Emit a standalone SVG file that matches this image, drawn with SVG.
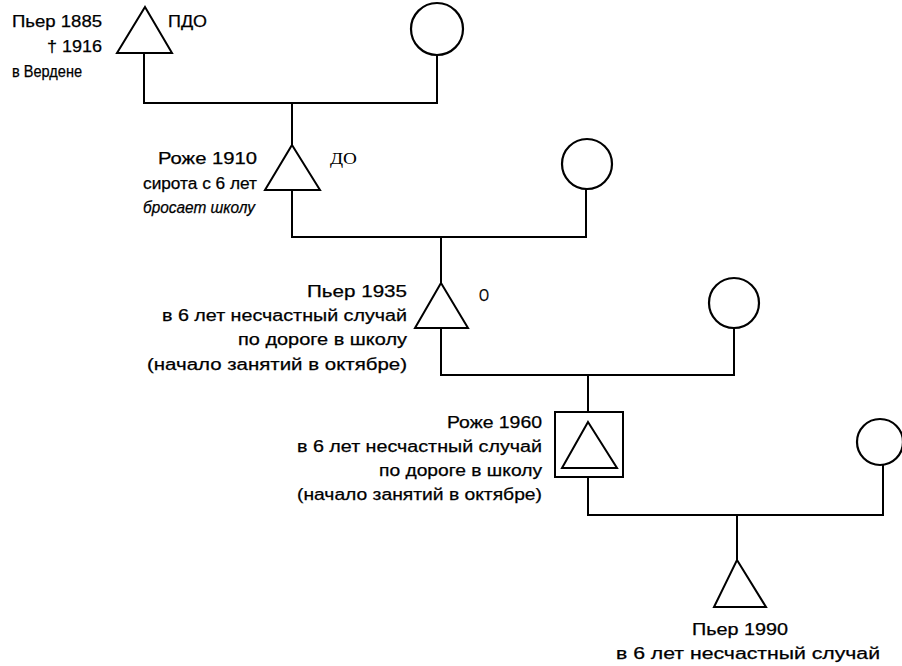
<svg xmlns="http://www.w3.org/2000/svg" width="902" height="666" viewBox="0 0 902 666">
<style>
.s{fill:none;stroke:#000;stroke-width:2;stroke-linejoin:miter}
.c{fill:none;stroke:#000;stroke-width:2.2}
.t{font-family:"Liberation Sans",Arial,sans-serif;font-size:16px;fill:#000;stroke:#000;stroke-width:0.25}
.tr{font-family:"Liberation Serif","Times New Roman",serif;font-size:17px;fill:#000}
</style>
<rect width="902" height="666" fill="#fff"/>
<g id="connectors" class="s">
<polyline points="144,53 144,103 437,103 437,55"/>
<line x1="292" y1="103" x2="292" y2="145"/>
<polyline points="292,190 292,237 586,237 586,189"/>
<line x1="441" y1="237" x2="441" y2="283"/>
<polyline points="441,328 441,375 734,375 734,328"/>
<line x1="588" y1="375" x2="588" y2="412"/>
<polyline points="588,477 588,515 883,515 883,465"/>
<line x1="737" y1="515" x2="737" y2="560"/>
</g>
<g id="pierre1885">
<polygon class="s" points="145,7 172,53 117,53"/>
<text class="t" x="12" y="27" textLength="90" lengthAdjust="spacingAndGlyphs">Пьер 1885</text>
<text class="t" x="47" y="52" textLength="55" lengthAdjust="spacingAndGlyphs">† 1916</text>
<text class="t" x="12" y="77" textLength="70" lengthAdjust="spacingAndGlyphs">в Вердене</text>
<text class="t" x="168" y="27" textLength="39" lengthAdjust="spacingAndGlyphs">ПДО</text>
</g>
<g id="wife1"><circle class="c" cx="437" cy="29" r="26"/></g>
<g id="roger1910">
<polygon class="s" points="292,145 320,190 265,190"/>
<text class="t" x="158" y="164" textLength="99" lengthAdjust="spacingAndGlyphs">Роже 1910</text>
<text class="t" x="143" y="189" textLength="114" lengthAdjust="spacingAndGlyphs">сирота с 6 лет</text>
<text class="t" x="143" y="213" textLength="112" lengthAdjust="spacingAndGlyphs" font-style="italic">бросает школу</text>
<text class="tr" x="330" y="164" textLength="27" lengthAdjust="spacingAndGlyphs">ДО</text>
</g>
<g id="wife2"><circle class="c" cx="587" cy="164" r="25"/></g>
<g id="pierre1935">
<polygon class="s" points="441,283 468,328 415,328"/>
<text class="t" x="307" y="297" textLength="100" lengthAdjust="spacingAndGlyphs">Пьер 1935</text>
<text class="t" x="162" y="321" textLength="245" lengthAdjust="spacingAndGlyphs">в 6 лет несчастный случай</text>
<text class="t" x="238" y="345" textLength="169" lengthAdjust="spacingAndGlyphs">по дороге в школу</text>
<text class="t" x="147" y="370" textLength="260" lengthAdjust="spacingAndGlyphs">(начало занятий в октябре)</text>
<text class="t" x="479" y="301" textLength="10" lengthAdjust="spacingAndGlyphs">О</text>
</g>
<g id="wife3"><circle class="c" cx="734" cy="303" r="25"/></g>
<g id="roger1960">
<rect class="s" x="555" y="412" width="68" height="65"/>
<polygon class="s" points="588,422 617,468 562,468"/>
<text class="t" x="447" y="428" textLength="95" lengthAdjust="spacingAndGlyphs">Роже 1960</text>
<text class="t" x="297" y="452" textLength="245" lengthAdjust="spacingAndGlyphs">в 6 лет несчастный случай</text>
<text class="t" x="379" y="476" textLength="163" lengthAdjust="spacingAndGlyphs">по дороге в школу</text>
<text class="t" x="297" y="500" textLength="245" lengthAdjust="spacingAndGlyphs">(начало занятий в октябре)</text>
</g>
<g id="wife4"><circle class="c" cx="880" cy="442" r="23"/></g>
<g id="pierre1990">
<polygon class="s" points="737,560 766,607 714,607"/>
<text class="t" x="692" y="635" textLength="96" lengthAdjust="spacingAndGlyphs">Пьер 1990</text>
<text class="t" x="616" y="659" textLength="264" lengthAdjust="spacingAndGlyphs">в 6 лет несчастный случай</text>
</g>
</svg>
